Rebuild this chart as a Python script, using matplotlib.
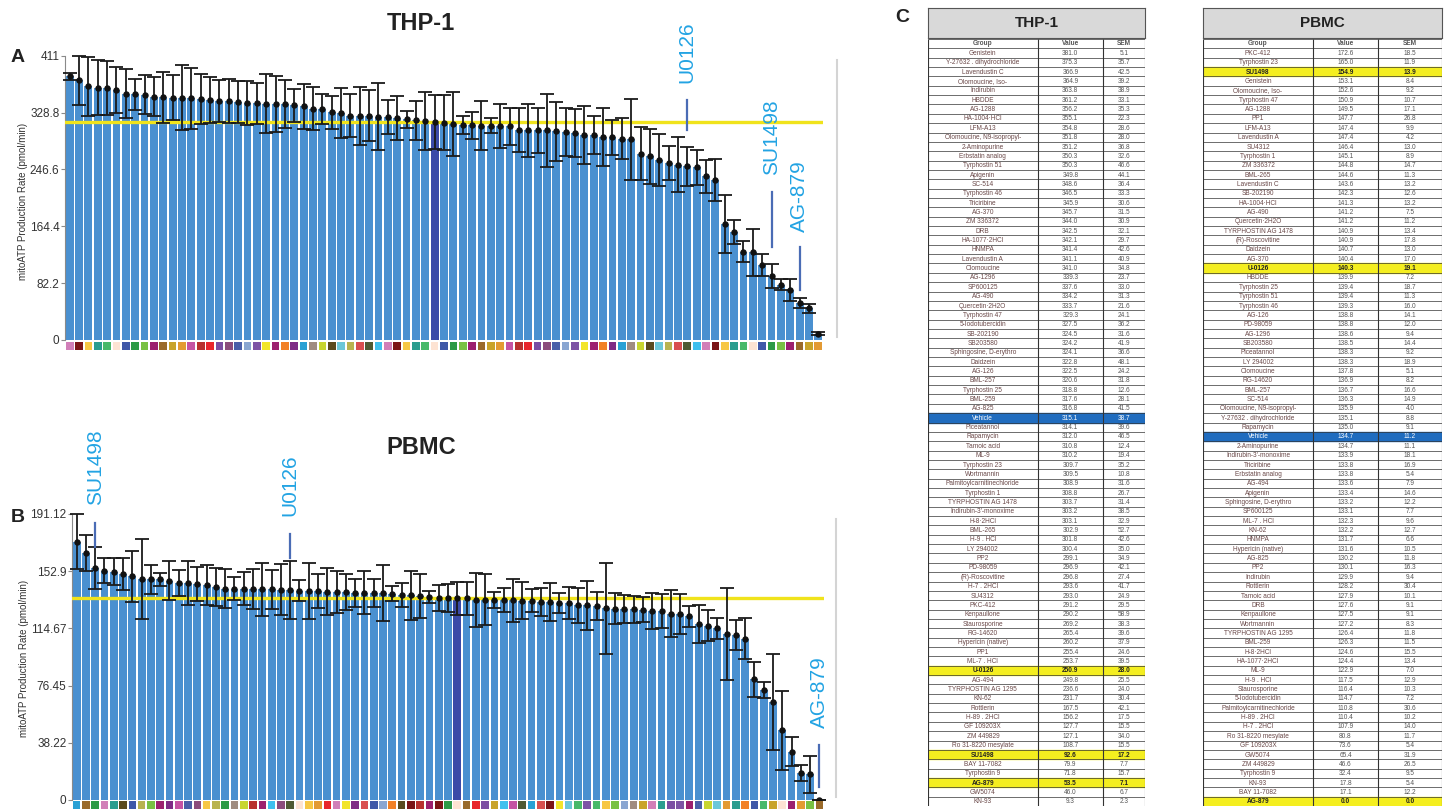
import numpy as np
import matplotlib
matplotlib.use("Agg")
import matplotlib.pyplot as plt
from matplotlib.lines import Line2D
from matplotlib.patches import Rectangle

plt.rcParams["font.family"] = ["Liberation Sans", "DejaVu Sans"]

# ---- THP-1 (sorted as in table C) ----
thp_names = [
    "Genistein", "Y-27632 . dihydrochloride", "Lavendustin C", "Olomoucine, Iso-", "Indirubin",
    "HBDDE", "AG-1288", "HA-1004·HCl", "LFM-A13", "Olomoucine, N9-isopropyl-",
    "2-Aminopurine", "Erbstatin analog", "Tyrphostin 51", "Apigenin", "SC-514",
    "Tyrphostin 46", "Triciribine", "AG-370", "ZM 336372", "DRB",
    "HA-1077·2HCl", "HNMPA", "Lavendustin A", "Olomoucine", "AG-1296",
    "SP600125", "AG-490", "Quercetin·2H2O", "Tyrphostin 47", "5-Iodotubercidin",
    "SB-202190", "SB203580", "Sphingosine, D-erythro", "Daidzein", "AG-126",
    "BML-257", "Tyrphostin 25", "BML-259", "AG-825", "Vehicle",
    "Piceatannol", "Rapamycin", "Tamoic acid", "ML-9", "Tyrphostin 23",
    "Wortmannin", "Palmitoylcarnitinechloride", "Tyrphostin 1", "TYRPHOSTIN AG 1478", "Indirubin-3'-monoxime",
    "H-8·2HCl", "BML-265", "H-9 . HCl", "LY 294002", "PP2",
    "PD-98059", "(R)-Roscovitine", "H-7 . 2HCl", "SU4312", "PKC-412",
    "Kenpaullone", "Staurosporine", "RG-14620", "Hypericin (native)", "PP1",
    "ML-7 . HCl", "U-0126", "AG-494", "TYRPHOSTIN AG 1295", "KN-62",
    "Rottlerin", "H-89 . 2HCl", "GF 109203X", "ZM 449829", "Ro 31-8220 mesylate",
    "SU1498", "BAY 11-7082", "Tyrphostin 9", "AG-879", "GW5074",
    "KN-93",
]
thp_value = [
    381.0, 375.3, 366.9, 364.9, 363.8, 361.2, 356.2, 355.1, 354.8, 351.8,
    351.2, 350.3, 350.3, 349.8, 348.6, 346.5, 345.9, 345.7, 344.0, 342.5,
    342.1, 341.4, 341.1, 341.0, 339.3, 337.6, 334.2, 333.7, 329.3, 327.5,
    324.5, 324.2, 324.1, 322.8, 322.5, 320.6, 318.8, 317.6, 316.8, 315.1,
    314.1, 312.0, 310.8, 310.2, 309.7, 309.5, 308.9, 308.8, 303.7, 303.2,
    303.1, 302.9, 301.8, 300.4, 299.1, 296.9, 296.8, 293.6, 293.0, 291.2,
    290.2, 269.2, 265.4, 260.2, 255.4, 253.7, 250.9, 249.8, 236.6, 231.7,
    167.5, 156.2, 127.7, 127.1, 108.7, 92.6, 79.9, 71.8, 53.5, 46.0,
    9.3,
]
thp_sem = [
    5.1, 35.7, 42.5, 39.2, 38.9, 33.1, 35.3, 22.3, 28.6, 28.0,
    36.8, 32.6, 46.6, 44.1, 36.4, 33.3, 30.6, 31.5, 30.9, 32.1,
    29.7, 42.6, 40.9, 34.8, 23.7, 33.0, 31.3, 21.6, 24.1, 36.2,
    31.6, 41.9, 36.6, 48.1, 24.2, 31.8, 12.6, 28.1, 41.5, 38.7,
    39.6, 46.5, 12.4, 19.4, 35.2, 10.8, 31.6, 26.7, 31.4, 38.5,
    32.9, 52.7, 42.6, 35.0, 34.9, 42.1, 27.4, 41.7, 24.9, 29.5,
    58.9, 38.3, 39.6, 37.9, 24.6, 39.5, 28.0, 25.5, 24.0, 30.4,
    42.1, 17.5, 15.5, 34.0, 15.5, 17.2, 7.7, 15.7, 7.1, 6.7,
    2.3,
]

# ---- PBMC ----
pbmc_names = [
    "PKC-412", "Tyrphostin 23", "SU1498", "Genistein", "Olomoucine, Iso-",
    "Tyrphostin 47", "AG-1288", "PP1", "LFM-A13", "Lavendustin A",
    "SU4312", "Tyrphostin 1", "ZM 336372", "BML-265", "Lavendustin C",
    "SB-202190", "HA-1004·HCl", "AG-490", "Quercetin·2H2O", "TYRPHOSTIN AG 1478",
    "(R)-Roscovitine", "Daidzein", "AG-370", "U-0126", "HBDDE",
    "Tyrphostin 25", "Tyrphostin 51", "Tyrphostin 46", "AG-126", "PD-98059",
    "AG-1296", "SB203580", "Piceatannol", "LY 294002", "Olomoucine",
    "RG-14620", "BML-257", "SC-514", "Olomoucine, N9-isopropyl-", "Y-27632 . dihydrochloride",
    "Rapamycin", "Vehicle", "2-Aminopurine", "Indirubin-3'-monoxime", "Triciribine",
    "Erbstatin analog", "AG-494", "Apigenin", "Sphingosine, D-erythro", "SP600125",
    "ML-7 . HCl", "KN-62", "HNMPA", "Hypericin (native)", "AG-825",
    "PP2", "Indirubin", "Rottlerin", "Tamoic acid", "DRB",
    "Kenpaullone", "Wortmannin", "TYRPHOSTIN AG 1295", "BML-259", "H-8·2HCl",
    "HA-1077·2HCl", "ML-9", "H-9 . HCl", "Staurosporine", "5-Iodotubercidin",
    "Palmitoylcarnitinechloride", "H-89 . 2HCl", "H-7 . 2HCl", "Ro 31-8220 mesylate", "GF 109203X",
    "GW5074", "ZM 449829", "Tyrphostin 9", "KN-93", "BAY 11-7082",
    "AG-879",
]
pbmc_value = [
    172.6, 165.0, 154.9, 153.1, 152.6, 150.9, 149.5, 147.7, 147.4, 147.4,
    146.4, 145.1, 144.8, 144.6, 143.6, 142.3, 141.3, 141.2, 141.2, 140.9,
    140.9, 140.7, 140.4, 140.3, 139.9, 139.4, 139.4, 139.3, 138.8, 138.8,
    138.6, 138.5, 138.3, 138.3, 137.8, 136.9, 136.7, 136.3, 135.9, 135.1,
    135.0, 134.7, 134.7, 133.9, 133.8, 133.8, 133.6, 133.4, 133.2, 133.1,
    132.3, 132.2, 131.7, 131.6, 130.2, 130.1, 129.9, 128.2, 127.9, 127.6,
    127.5, 127.2, 126.4, 126.3, 124.6, 124.4, 122.9, 117.5, 116.4, 114.7,
    110.8, 110.4, 107.9, 80.8, 73.6, 65.4, 46.6, 32.4, 17.8, 17.1,
    0.0,
]
pbmc_sem = [
    18.5, 11.9, 13.9, 8.4, 9.2, 10.7, 17.1, 26.8, 9.9, 4.2,
    13.0, 8.9, 14.7, 11.3, 13.2, 12.6, 13.2, 7.5, 11.2, 13.4,
    17.8, 13.0, 17.0, 19.1, 7.2, 18.7, 11.3, 16.0, 14.1, 12.0,
    9.4, 14.4, 9.2, 18.9, 5.1, 8.2, 16.6, 14.9, 4.0, 8.8,
    9.1, 11.2, 11.1, 18.1, 16.9, 5.4, 7.9, 14.6, 12.2, 7.7,
    9.6, 12.7, 6.6, 10.5, 11.8, 16.3, 9.4, 30.4, 10.1, 9.1,
    9.1, 8.3, 11.8, 11.5, 15.5, 13.4, 7.0, 12.9, 10.3, 7.2,
    30.6, 10.2, 14.0, 11.7, 5.4, 31.9, 26.5, 9.5, 5.4, 12.2,
    0.0,
]

thp_ticks = ["0", "82.2", "164.4", "246.6", "328.8", "411"]
pbmc_ticks = ["0", "38.22", "76.45", "114.67", "152.9", "191.12"]
highlighted = ["U-0126", "SU1498", "AG-879"]

BAR = "#4a90d0"
VEH = "#3b4aa8"
YELLOW = "#f0e31c"
LABEL = "#22a3e3"
MARK = "#4a6cb5"
TXT = "#333333"

# per-compound legend squares (same colour for a compound in both panels)
PALETTE = [
    "#d17fb8", "#7b1416", "#f7c744", "#2a9d8f", "#48b96a", "#fde3d3", "#3f58a8",
    "#2c9a45", "#79c143", "#9c1f6e", "#9a6a2a", "#c9a32a", "#e39a33", "#c553a3",
    "#b8302e", "#e8262c", "#7b4ea3", "#8c4c7c", "#4a5ea8", "#8aa6d1", "#7d53a5",
    "#f2e52a", "#9d216f", "#f28025", "#7f2b86", "#2aa0d4", "#a08c80", "#c8d530",
    "#5a4a1e", "#6cc7d8", "#b9b34f", "#d94f4f", "#4f5a33", "#3fc0ee",
]
SQ = {n: PALETTE[i % len(PALETTE)] for i, n in enumerate(thp_names)}

W, H = 1450, 809
fig = plt.figure(figsize=(W / 100, H / 100), dpi=100)


def rect(x0, y0, x1, y1):
    return [x0 / W, 1 - y1 / H, (x1 - x0) / W, (y1 - y0) / H]


def bar_panel(box, sq_box, names, vals, sems, ymax, ticks, marks):
    ax = fig.add_axes(rect(*box))
    x = np.arange(len(names))
    ax.bar(x, vals, width=0.84, color=[VEH if n == "Vehicle" else BAR for n in names], zorder=2)
    ax.axhline(vals[names.index("Vehicle")], color=YELLOW, lw=2.4, zorder=3)
    eb = ax.errorbar(x, vals, yerr=sems, fmt="o", ms=3.6, color="#111111", ecolor="#1a1a1a",
                     elinewidth=1.3, capsize=5, capthick=1.3, zorder=4)
    for a in eb.get_children():
        a.set_clip_on(False)
    ax.set_xlim(-0.5, len(names) - 0.5)
    ax.set_ylim(0, ymax)
    ax.set_yticks(np.linspace(0, ymax, 6))
    ax.set_yticklabels(ticks)
    ax.set_xticks([])
    for s in ("top", "right", "bottom"):
        ax.spines[s].set_visible(False)
    ax.spines["left"].set_color("#8a8a8a")
    ax.tick_params(axis="y", length=3, color="#8a8a8a", labelsize=8.5, labelcolor=TXT, pad=1)
    ax.set_facecolor("none")
    # annotated compounds
    for name, label, ytxt, lo, hi in marks:
        i = names.index(name)
        ax.plot([i, i], [lo, hi], color=MARK, lw=1.6, clip_on=False, zorder=5)
        ax.text(i, ytxt, label, rotation=90, ha="center", va="bottom", color=LABEL,
                fontsize=15, clip_on=False)
    sq = fig.add_axes(rect(*sq_box))
    sq.bar(x, 1, width=0.82, color=[SQ[n] for n in names])
    sq.set_xlim(-0.5, len(names) - 0.5)
    sq.set_ylim(0, 1)
    sq.axis("off")
    return ax


bar_panel((65, 55.7, 823, 340), (65, 342, 823, 350), thp_names, thp_value, thp_sem, 411, thp_ticks,
          [("U-0126", "U0126", 371, 303, 347), ("SU1498", "SU1498", 238, 135, 214),
           ("AG-879", "AG-879", 156, 72, 134)])
bar_panel((72, 514, 824, 800), (72, 801, 824, 809), pbmc_names, pbmc_value, pbmc_sem, 191.12, pbmc_ticks,
          [("SU1498", "SU1498", 197, 169, 185), ("U-0126", "U0126", 190, 162, 178),
           ("AG-879", "AG-879", 48, 9, 37)])

ylab = "mitoATP Production Rate (pmol/min)"
fig.text(23 / W, 1 - 201 / H, ylab, rotation=90, ha="center", va="center", fontsize=7, color=TXT)
fig.text(24 / W, 1 - 658 / H, ylab, rotation=90, ha="center", va="center", fontsize=7, color=TXT)
fig.text(421 / W, 1 - 23 / H, "THP-1", ha="center", va="center", fontsize=17, weight="bold", color="#222")
fig.text(421 / W, 1 - 448 / H, "PBMC", ha="center", va="center", fontsize=17, weight="bold", color="#222")
for lab, px, py in (("A", 18, 57), ("B", 18, 517), ("C", 902, 18)):
    fig.text(px / W, 1 - py / H, lab, ha="center", va="center", fontsize=14, weight="bold", color="#222")
for xx, y0, y1 in ((837, 60, 337), (836, 519, 797)):
    fig.add_artist(Line2D([xx / W, xx / W], [1 - y0 / H, 1 - y1 / H], color="#d4d4d4", lw=1.5))


def draw_table(x0, x1, c1, c2, title, names, vals, sems):
    hb = fig.add_axes(rect(x0, 8, x1, 38))
    hb.set_facecolor("#d9d9d9")
    hb.set_xticks([])
    hb.set_yticks([])
    for s in hb.spines.values():
        s.set_color("#555555")
        s.set_linewidth(0.8)
    hb.text(0.5, 0.5, title, ha="center", va="center", fontsize=11, weight="bold", color="#222")

    ax = fig.add_axes(rect(x0, 39, x1, 806))
    n = len(names) + 1
    ax.set_xlim(x0, x1)
    ax.set_ylim(n, 0)
    ax.axis("off")
    cx = [(x0 + c1) / 2, (c1 + c2) / 2, (c2 + x1) / 2]
    for j, h in enumerate(("Group", "Value", "SEM")):
        ax.text(cx[j], 0.5, h, ha="center", va="center", fontsize=4.7, weight="bold", color="#555")
    for i, (nm, v, s) in enumerate(zip(names, vals, sems)):
        r = i + 1
        col_n, col_v, w = "#6a4848", "#555555", "normal"
        if nm == "Vehicle":
            ax.add_patch(Rectangle((x0, r), x1 - x0, 1, color="#1f6cbf", zorder=0))
            col_n = col_v = "white"
        elif nm in highlighted:
            ax.add_patch(Rectangle((x0, r), x1 - x0, 1, color="#f4ee1f", zorder=0))
            col_n = col_v = "#222"
            w = "bold"
        ax.text(cx[0], r + 0.55, nm, ha="center", va="center", fontsize=4.7, color=col_n, weight=w)
        ax.text(cx[1], r + 0.55, f"{v:.1f}", ha="center", va="center", fontsize=4.7, color=col_v, weight=w)
        ax.text(cx[2], r + 0.55, f"{s:.1f}", ha="center", va="center", fontsize=4.7, color=col_v, weight=w)
    ax.hlines(np.arange(n + 1), x0, x1, color="#333333", lw=0.5)
    ax.vlines([x0, c1, c2, x1], 0, n, color="#333333", lw=0.8)


draw_table(928, 1145, 1037.7, 1103, "THP-1", thp_names, thp_value, thp_sem)
draw_table(1203, 1442, 1313, 1378, "PBMC", pbmc_names, pbmc_value, pbmc_sem)

fig.savefig("out.png", dpi=100)
